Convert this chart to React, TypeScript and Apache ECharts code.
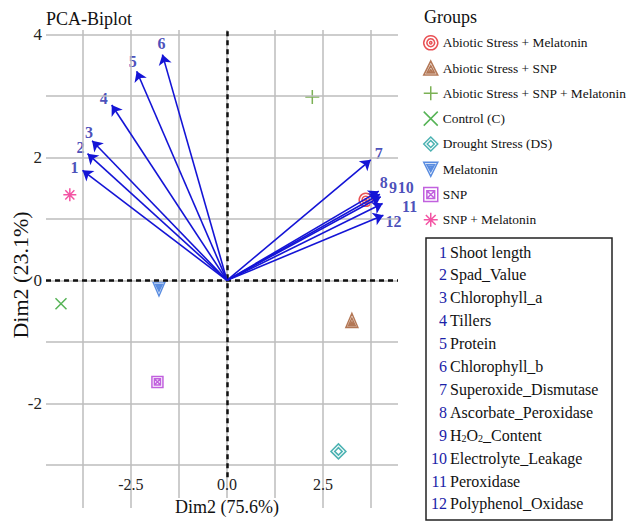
import React, { useEffect, useRef } from 'react';
import * as echarts from 'echarts';

// ---- data ----
const groupNames = [
  'Abiotic Stress + Melatonin',
  'Abiotic Stress + SNP',
  'Abiotic Stress + SNP + Melatonin',
  'Control (C)',
  'Drought Stress (DS)',
  'Melatonin',
  'SNP',
  'SNP + Melatonin',
];
const groupX = [3.61, 3.25, 2.22, -4.32, 2.9, -1.77, -1.81, -4.09];
const groupY = [1.31, -0.65, 2.98, -0.38, -2.78, -0.14, -1.65, 1.39];

const varNames = [
  'Shoot length',
  'Spad_Value',
  'Chlorophyll_a',
  'Tillers',
  'Protein',
  'Chlorophyll_b',
  'Superoxide_Dismutase',
  'Ascorbate_Peroxidase',
  'H2O2_Content',
  'Electrolyte_Leakage',
  'Peroxidase',
  'Polyphenol_Oxidase',
];
const loadX = [-3.76, -3.63, -3.51, -3.0, -2.35, -1.68, 3.74, 3.95, 3.98, 4.0, 4.05, 4.07];
const loadY = [1.79, 2.06, 2.27, 2.85, 3.4, 3.67, 1.96, 1.45, 1.4, 1.36, 1.25, 1.06];

const xTickLabels = [-2.5, 0, 2.5];
const yTickLabels = [-2, 0, 2, 4];
const xGridValues = [-3.75, -2.5, -1.25, 0, 1.25, 2.5, 3.75];
const yGridValues = [-3, -2, -1, 0, 1, 2, 3, 4];

// ---- styles ----
const FONT = 'Liberation Serif';
const groupStyles = [
  { color: '#e3262b', size: [13, 13], path: 'path://M10 1 A9 9 0 1 1 9.99 1 Z M10 5 A5 5 0 1 1 9.99 5 Z M10 8.5 A1.5 1.5 0 1 1 9.99 8.5 Z' },
  { color: '#a0552a', size: [12, 14], path: 'path://M10 1 L19 19 L1 19 Z M10 7 L15 16.5 L5 16.5 Z M10 12 L12 15 L8 15 Z' },
  { color: '#5a9e2a', size: [14, 14], path: 'path://M10 0 L10 20 M0 10 L20 10' },
  { color: '#2ca02c', size: [11, 11], path: 'path://M1 1 L19 19 M19 1 L1 19' },
  { color: '#1f9f9f', size: [15, 15], path: 'path://M10 0 L20 10 L10 20 L0 10 Z M10 5 L15 10 L10 15 L5 10 Z' },
  { color: '#2f6fd8', size: [12, 14], path: 'path://M1 1 L19 1 L10 19 Z M5 4 L15 4 L10 13 Z M8 6 L12 6 L10 10 Z' },
  { color: '#b23ad6', size: [11, 11], path: 'path://M1 1 L19 1 L19 19 L1 19 Z M5 5 L15 5 L15 15 L5 15 Z M5 5 L15 15 M15 5 L5 15' },
  { color: '#f0288c', size: [13, 13], path: 'path://M10 0 L10 20 M0 10 L20 10 M3 3 L17 17 M17 3 L3 17' },
];
const arrowColor = '#1414d6';
const numColor = '#1a22a8';
// label nudges (px) relative to arrow tips
const labelNudges = [
  [-8, -3], [-7, -6], [-3, -8], [-8, -7], [-4, -10], [-1, -11],
  [8, -6], [5, -9], [13, -7], [25, -9], [27, 3], [10, 6],
];

export default function App() {
  const ref = useRef<HTMLDivElement>(null);
  useEffect(() => {
    if (!ref.current) return;
    const chart = echarts.init(ref.current, undefined, { renderer: 'svg' });

    const gridSeries = {
      type: 'scatter',
      data: [[0, 0]],
      symbol: 'none',
      silent: true,
      markLine: {
        silent: true,
        symbol: ['none', 'none'],
        label: { show: false },
        lineStyle: { color: '#bcbcbc', width: 1.5, type: 'solid' },
        data: [
          ...xGridValues.map((v) => ({ xAxis: v })),
          ...yGridValues.map((v) => ({ yAxis: v })),
        ],
      },
    };
    const zeroSeries = {
      type: 'scatter',
      data: [[0, 0]],
      symbol: 'none',
      silent: true,
      markLine: {
        silent: true,
        symbol: ['none', 'none'],
        label: { show: false },
        lineStyle: { color: '#111', width: 2.5, type: [5, 4] },
        data: [
          { yAxis: 0 },
          [{ coord: [0, -3.2] }, { coord: [0, 4.07] }],
        ],
      },
    };
    const arrowSeries = {
      type: 'scatter',
      symbol: 'circle',
      symbolSize: 1,
      itemStyle: { color: 'rgba(0,0,0,0)' },
      silent: true,
      z: 3,
      data: loadX.map((x, i) => ({
        value: [x, loadY[i]],
        label: { offset: labelNudges[i] },
      })),
      label: {
        show: true,
        position: 'inside',
        formatter: (p: any) => String(p.dataIndex + 1),
        fontFamily: FONT,
        fontWeight: 'bold',
        fontSize: 16,
        color: numColor,
      },
      markLine: {
        silent: true,
        symbol: ['none', 'arrow'],
        symbolSize: 10,
        label: { show: false },
        lineStyle: { color: arrowColor, width: 1.6, type: 'solid' },
        data: loadX.map((x, i) => [{ coord: [0, 0] }, { coord: [x, loadY[i]] }]),
      },
    };
    const groupSeries = groupNames.map((name, i) => ({
      type: 'scatter',
      name,
      z: 4,
      symbol: groupStyles[i].path,
      symbolSize: groupStyles[i].size,
      itemStyle: {
        color: 'rgba(0,0,0,0)',
        borderColor: groupStyles[i].color,
        borderWidth: 1.5,
      },
      data: [[groupX[i], groupY[i]]],
    }));

    const boxTop = 252;
    const boxStep = 22.9;
    const boxItems: any[] = [];
    varNames.forEach((name, i) => {
      const y = boxTop + i * boxStep;
      boxItems.push({
        type: 'text',
        x: 447,
        y,
        style: {
          text: String(i + 1),
          fill: numColor,
          fontFamily: FONT,
          fontSize: 16,
          align: 'right',
          textAlign: 'right',
          verticalAlign: 'middle',
          textVerticalAlign: 'middle',
        },
      });
      const isH2O2 = name === 'H2O2_Content';
      boxItems.push({
        type: 'text',
        x: 450,
        y,
        style: {
          text: isH2O2 ? 'H{s|2}O{s|2}_Content' : name,
          fill: '#111',
          fontFamily: FONT,
          fontSize: 16,
          align: 'left',
          textAlign: 'left',
          verticalAlign: 'middle',
          textVerticalAlign: 'middle',
          rich: {
            s: { fontSize: 10, fontFamily: FONT, fill: '#111', verticalAlign: 'bottom', padding: [6, 0, 0, 0] },
          },
        },
      });
    });

    chart.setOption({
      animation: false,
      backgroundColor: '#fff',
      grid: { left: 46, right: 231, top: 30, bottom: 14 },
      xAxis: {
        type: 'value',
        min: -4.71,
        max: 4.45,
        z: 10,
        axisLine: { show: false },
        axisTick: { show: false },
        splitLine: { show: false },
        axisLabel: {
          customValues: xTickLabels,
          formatter: (v: number) => v.toFixed(1),
          margin: -32,
          fontFamily: FONT,
          fontSize: 16,
          color: '#222',
        },
      },
      yAxis: {
        type: 'value',
        min: -3.7,
        max: 4.07,
        axisLine: { show: false },
        axisTick: { show: false },
        splitLine: { show: false },
        axisLabel: {
          customValues: yTickLabels,
          formatter: (v: number) => String(v),
          margin: 4,
          fontFamily: FONT,
          fontSize: 17,
          color: '#222',
        },
      },
      legend: {
        data: groupNames,
        orient: 'vertical',
        left: 418,
        top: 30,
        padding: 5,
        itemWidth: 14,
        itemHeight: 14,
        itemGap: 9.8,
        selectedMode: false,
        itemStyle: { borderWidth: 1.5 },
        textStyle: { fontFamily: FONT, fontSize: 13.4, color: '#111' },
      },
      graphic: [
        {
          type: 'text', x: 46, y: 19,
          style: { text: 'PCA-Biplot', fontFamily: FONT, fontSize: 18, fill: '#111', verticalAlign: 'middle', textVerticalAlign: 'middle' },
        },
        {
          type: 'text', x: 424, y: 17,
          style: { text: 'Groups', fontFamily: FONT, fontSize: 18, fill: '#111', verticalAlign: 'middle', textVerticalAlign: 'middle' },
        },
        {
          type: 'text', x: 20, y: 275, rotation: Math.PI / 2,
          style: { text: 'Dim2 (23.1%)', fontFamily: FONT, fontSize: 22, fill: '#111', align: 'center', textAlign: 'center', verticalAlign: 'middle', textVerticalAlign: 'middle' },
        },
        {
          type: 'text', x: 227, y: 507, z: 20,
          style: { text: 'Dim2 (75.6%)', fontFamily: FONT, fontSize: 18, fill: '#111', align: 'center', textAlign: 'center', verticalAlign: 'middle', textVerticalAlign: 'middle', backgroundColor: '#fff', padding: [0, 2] },
        },
        {
          type: 'rect',
          shape: { x: 426, y: 238, width: 186, height: 282 },
          style: { fill: '#fff', stroke: '#222', lineWidth: 1.5 },
        },
        ...boxItems,
      ],
      series: [gridSeries, zeroSeries, arrowSeries, ...groupSeries],
    });
    return () => chart.dispose();
  }, []);
  return <div ref={ref} style={{ position: 'fixed', left: 0, top: 0, width: 629, height: 522 }} />;
}
